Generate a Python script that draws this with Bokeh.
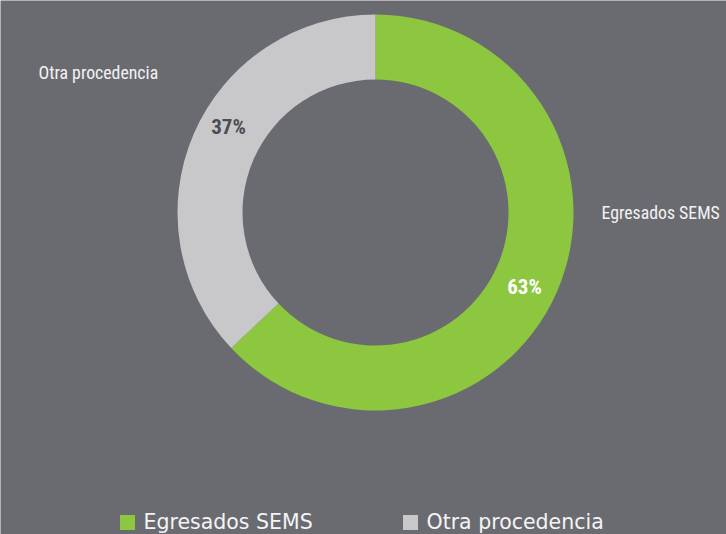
import numpy as np
from bokeh.plotting import figure
from bokeh.models import Range1d, ColumnDataSource
from bokeh.embed import file_html
from bokeh.resources import INLINE
from bokeh.core.properties import value

# ---- data ----
categories = ["Egresados SEMS", "Otra procedencia"]
percentages = [63, 37]
colors = ["#8dc63f", "#c8c8ca"]
pct_text_colors = ["#ffffff", "#4b4c52"]

# ---- layout constants (screen pixels) ----
BG = "#6a6b70"
W, H = 726, 534
CX, CY = 375, 212
R_IN, R_OUT = 133, 198
COND = value("'Roboto Condensed', 'DejaVu Sans Condensed', 'Liberation Sans Narrow', sans-serif")


def sy(y):
    return H - y


p = figure(width=W, height=H, x_range=Range1d(0, W), y_range=Range1d(0, H),
           output_backend="svg", toolbar_location=None, min_border=0,
           x_axis_type=None, y_axis_type=None)
p.grid.visible = False
p.outline_line_color = None
p.background_fill_color = BG
p.border_fill_color = BG

frac = np.array(percentages, dtype=float) / sum(percentages)
cum = np.cumsum(frac)
start = np.pi / 2 - 2 * np.pi * np.concatenate([[0.0], cum[:-1]])
end = np.pi / 2 - 2 * np.pi * cum

src = ColumnDataSource(dict(cat=categories, start=start, end=end, color=colors))
p.annular_wedge(x=CX, y=sy(CY), inner_radius=R_IN, outer_radius=R_OUT,
                start_angle="start", end_angle="end", direction="clock",
                fill_color="color", line_color=None, source=src)

# outer category labels
lab_x = [601, 38]
lab_y = [sy(212), sy(72)]
p.text(x=lab_x, y=lab_y, text=categories, text_color="#f2f2f2",
       text_font=COND, text_font_size="17.8px",
       text_align="left", text_baseline="middle")

# percentage labels
pct_labels = [f"{v}%" for v in percentages]
pct_x = [524, 228]
pct_y = [sy(286), sy(126)]
p.text(x=pct_x, y=pct_y, text=pct_labels, text_color=pct_text_colors,
       text_font=COND, text_font_style="bold",
       text_font_size="21px", text_align="center", text_baseline="middle")

# legend
leg_x = [127, 410]
p.rect(x=leg_x, y=[sy(522)] * 2, width=15, height=15, fill_color=colors, line_color=None)
p.text(x=[x + 16 for x in leg_x], y=[sy(521)] * 2, text=categories, text_color="#f4f4f4",
       text_font=value("DejaVu Sans"), text_font_size="20.5px",
       text_align="left", text_baseline="middle")

open("out.html", "w").write(file_html(p, INLINE))
